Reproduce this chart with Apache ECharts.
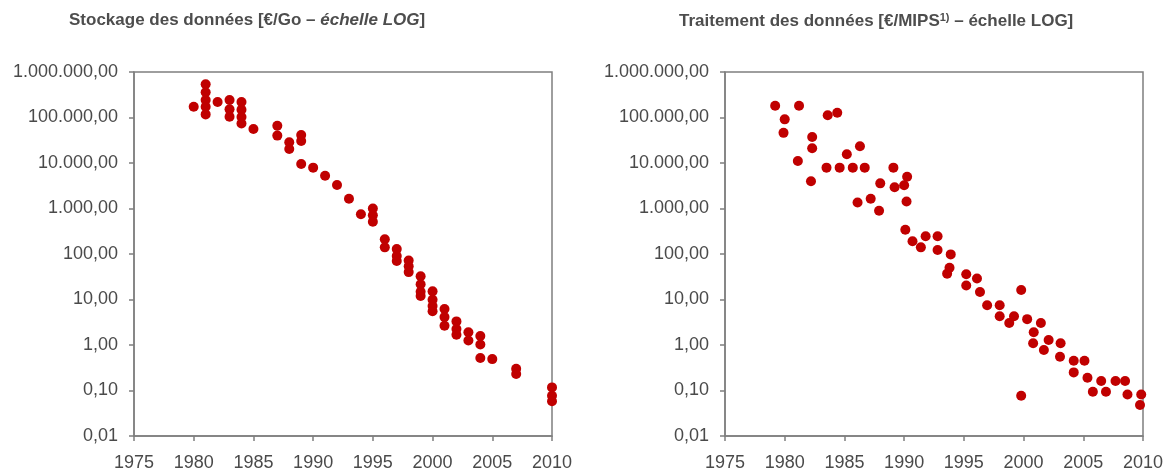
<!DOCTYPE html>
<html>
<head>
<meta charset="utf-8">
<script src="https://cdn.jsdelivr.net/npm/echarts@6/dist/echarts.min.js"></script>
<style>
  html, body { margin: 0; padding: 0; background: #fff; }
  #chart { width: 1171px; height: 474px; }
</style>
</head>
<body>
<div id="chart"></div>
<script>
// Stockage des données [€/Go] - année, valeur
var stockageYears = [1980, 1981, 1981, 1981, 1981, 1981, 1982, 1983, 1983, 1983, 1984, 1984, 1984, 1984, 1985,
    1987, 1987, 1988, 1988, 1989, 1989, 1989, 1990, 1991, 1992, 1993, 1994, 1995, 1995, 1995,
    1996, 1996, 1997, 1997, 1997, 1998, 1998, 1998, 1999, 1999, 1999, 1999, 2000, 2000, 2000, 2000,
    2001, 2001, 2001, 2002, 2002, 2002, 2003, 2003, 2004, 2004, 2004, 2005, 2007, 2007, 2010, 2010, 2010];
var stockageValues = [173000, 537000, 358000, 242000, 173000, 117000, 219000, 242000, 151000, 104000, 219000, 148000, 103000, 74000, 55800,
    66000, 40000, 28600, 20300, 41000, 30400, 9500, 7900, 5250, 3280, 1640, 746, 1000, 710, 513,
    210, 140, 128, 90, 70, 72, 54, 40, 32.4, 21.6, 14.8, 11.9, 15.1, 9.9, 7.2, 5.5,
    6.2, 4.1, 2.65, 3.3, 2.24, 1.68, 1.9, 1.26, 1.58, 1.03, 0.52, 0.49, 0.30, 0.23, 0.117, 0.077, 0.058];

// Traitement des données [€/MIPS] - année, valeur
var traitementYears = [1979.2, 1980.0, 1979.9, 1981.2, 1981.1, 1982.3, 1982.3, 1982.2, 1983.6, 1984.4, 1983.5, 1984.6,
    1985.2, 1985.7, 1986.3, 1986.7, 1986.1, 1987.2, 1987.9, 1988.0, 1989.1, 1989.2, 1990.0, 1990.25, 1990.2,
    1990.1, 1990.7, 1991.4, 1991.8, 1992.8, 1992.8, 1993.9, 1993.8, 1993.6, 1995.2, 1995.2, 1996.1, 1996.35,
    1996.95, 1998.0, 1998.0, 1998.8, 1999.2, 1999.8, 1999.8, 2000.3, 2000.85, 2001.45, 2000.8, 2001.7, 2002.1,
    2003.1, 2003.05, 2004.2, 2005.1, 2004.2, 2005.35, 2005.8, 2006.5, 2006.9, 2007.7, 2008.5, 2008.7, 2009.85, 2009.75];
var traitementValues = [182000, 91000, 46000, 182000, 11100, 37300, 21000, 3970, 112000, 127000, 7900, 7900,
    15600, 7900, 23300, 7900, 1350, 1640, 890, 3570, 7900, 2920, 3230, 5000, 1420,
    340, 190, 140, 245, 245, 122, 98, 50, 37, 36, 20.4, 29, 14.6,
    7.5, 7.5, 4.3, 3.05, 4.3, 16.2, 0.077, 3.7, 1.9, 3.05, 1.09, 0.776, 1.29,
    1.09, 0.553, 0.45, 0.45, 0.25, 0.19, 0.094, 0.162, 0.094, 0.162, 0.162, 0.082, 0.082, 0.048];

var xTicks = { min: 1975, max: 2010, interval: 5 };
var yRange = { min: 0.01, max: 1000000 };

function pairs(xs, ys) {
    var out = [];
    for (var i = 0; i < xs.length; i++) {
        out.push([xs[i], ys[i]]);
    }
    return out;
}

function fmtEuro(v) {
    var parts = Number(v).toFixed(2).split('.');
    var intPart = parts[0].replace(/\B(?=(\d{3})+(?!\d))/g, '.');
    return intPart + ',' + parts[1];
}

var grey = '#7f7f7f';
var textColor = '#4a4a4a';
var red = '#C00000';
var font = 'Liberation Sans, Arial, sans-serif';

function xAxisOf(idx) {
    return {
        type: 'value',
        gridIndex: idx,
        min: xTicks.min,
        max: xTicks.max,
        interval: xTicks.interval,
        axisLine: { show: true, lineStyle: { color: grey, width: 1.5 } },
        axisTick: { show: true, length: 5, lineStyle: { color: grey, width: 1.5 } },
        axisLabel: {
            color: textColor, fontSize: 18, fontFamily: font, margin: 18,
            formatter: function (v) { return String(v); }
        },
        splitLine: { show: false }
    };
}

function yAxisOf(idx) {
    return {
        type: 'log',
        logBase: 10,
        gridIndex: idx,
        min: yRange.min,
        max: yRange.max,
        axisLine: { show: true, lineStyle: { color: grey, width: 1.5 } },
        axisTick: { show: true, length: 5, lineStyle: { color: grey, width: 1.5 } },
        axisLabel: {
            color: textColor, fontSize: 18, fontFamily: font, margin: 16,
            formatter: fmtEuro
        },
        splitLine: { show: false },
        minorTick: { show: false }
    };
}

var titleRich = {
    a: { fontSize: 17, fontWeight: 'bold', color: '#4d4d4d', fontFamily: font },
    i: { fontSize: 17, fontWeight: 'bold', fontStyle: 'italic', color: '#4d4d4d', fontFamily: font },
    sup: { fontSize: 11, fontWeight: 'bold', color: '#4d4d4d', fontFamily: font, verticalAlign: 'top', padding: [0, 0, 8, 0] }
};

var chart = echarts.init(document.getElementById('chart'), null, { renderer: 'canvas' });

chart.setOption({
    animation: false,
    backgroundColor: '#fff',
    title: [
        {
            text: '{a|Stockage des données [€/Go – }{i|échelle LOG}{a|]}',
            left: 64, top: 7,
            textStyle: { rich: titleRich }
        },
        {
            text: '{a|Traitement des données [€/MIPS}{sup|1)}{a| – échelle LOG]}',
            left: 674, top: 7,
            textStyle: { rich: titleRich }
        }
    ],
    grid: [
        { left: 134, right: 619, top: 72, bottom: 38, show: true, borderColor: grey, borderWidth: 1.5, backgroundColor: 'transparent' },
        { left: 725, right: 28, top: 72, bottom: 38, show: true, borderColor: grey, borderWidth: 1.5, backgroundColor: 'transparent' }
    ],
    xAxis: [xAxisOf(0), xAxisOf(1)],
    yAxis: [yAxisOf(0), yAxisOf(1)],
    series: [
        {
            name: 'Stockage',
            type: 'scatter',
            xAxisIndex: 0, yAxisIndex: 0,
            symbolSize: 10,
            itemStyle: { color: red, opacity: 1 },
            data: pairs(stockageYears, stockageValues)
        },
        {
            name: 'Traitement',
            type: 'scatter',
            xAxisIndex: 1, yAxisIndex: 1,
            symbolSize: 10,
            itemStyle: { color: red, opacity: 1 },
            data: pairs(traitementYears, traitementValues)
        }
    ]
});
</script>
</body>
</html>
